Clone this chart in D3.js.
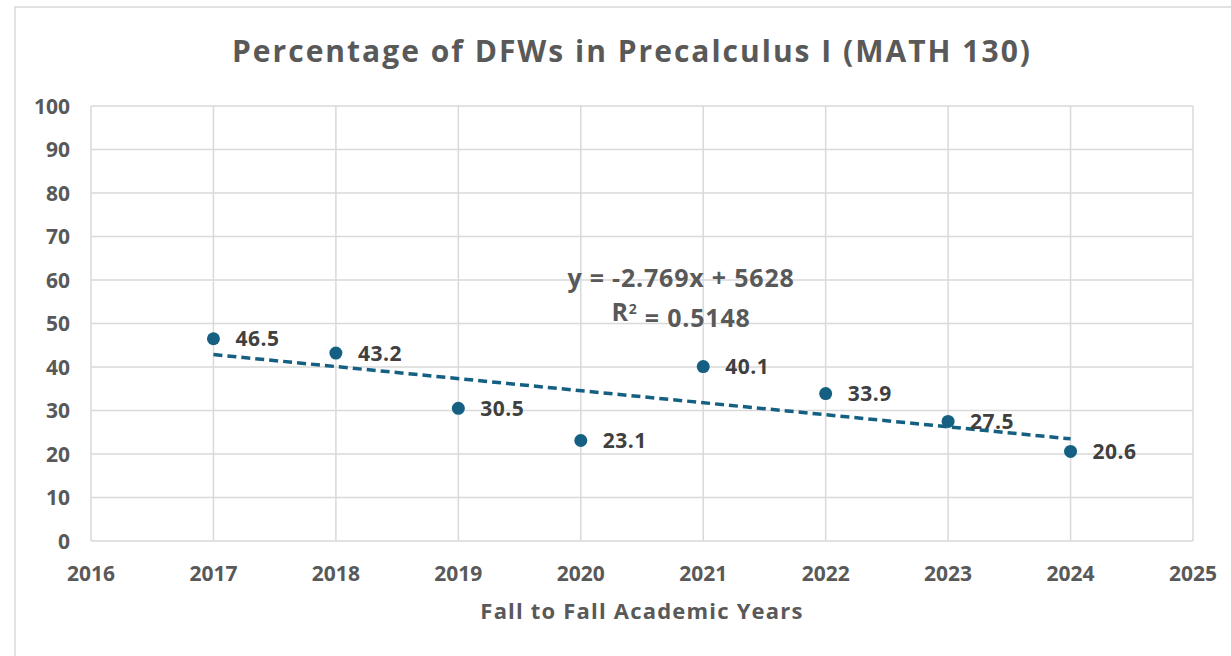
<!DOCTYPE html>
<html lang="en">
<head>
    <meta charset="UTF-8">
    <title>Percentage of DFWs in Precalculus I</title>
    <script src="https://d3js.org/d3.v7.min.js"></script>
    <style>
        body { margin: 0; background: #fff; }
        text { font-family: "Open Sans", "Liberation Sans", Arial, sans-serif; font-weight: bold; }
    </style>
</head>
<body>
<script>

var years = [2017, 2018, 2019, 2020, 2021, 2022, 2023, 2024];
var dfw = [46.5, 43.2, 30.5, 23.1, 40.1, 33.9, 27.5, 20.6];
var xTicks = [2016, 2017, 2018, 2019, 2020, 2021, 2022, 2023, 2024, 2025];
var yTicks = [0, 10, 20, 30, 40, 50, 60, 70, 80, 90, 100];

var width = 1231, height = 656;
var plotL = 91, plotR = 1193, plotT = 106, plotB = 541;
var blue = "#156082";

var svg = d3.select("body").append("svg")
    .attr("width", width)
    .attr("height", height);

// outer chart frame (runs off the right and bottom)
svg.append("rect")
    .attr("x", 15).attr("y", 7)
    .attr("width", 1300).attr("height", 700)
    .attr("fill", "none")
    .attr("stroke", "#d9d9d9")
    .attr("stroke-width", 1.5);

var x = d3.scaleLinear().domain([2016, 2025]).range([plotL, plotR]);
var y = d3.scaleLinear().domain([0, 100]).range([plotB, plotT]);

// gridlines
svg.append("g").selectAll("line").data(yTicks).join("line")
    .attr("x1", plotL).attr("x2", plotR)
    .attr("y1", d => y(d)).attr("y2", d => y(d))
    .attr("stroke", "#d9d9d9").attr("stroke-width", 1.5);
svg.append("g").selectAll("line").data(xTicks).join("line")
    .attr("x1", d => x(d)).attr("x2", d => x(d))
    .attr("y1", plotT).attr("y2", plotB)
    .attr("stroke", "#d9d9d9").attr("stroke-width", 1.5);

// tick labels
svg.append("g").selectAll("text").data(yTicks).join("text")
    .attr("x", 70).attr("y", d => y(d))
    .attr("dy", "0.36em")
    .attr("text-anchor", "end")
    .attr("fill", "#595959")
    .style("font-size", "21px")
    .text(d => d);
svg.append("g").selectAll("text").data(xTicks).join("text")
    .attr("x", d => x(d)).attr("y", 573)
    .attr("dy", "0.36em")
    .attr("text-anchor", "middle")
    .attr("fill", "#595959")
    .style("font-size", "21px")
    .text(d => d);

// title + axis title
svg.append("text")
    .attr("x", 632).attr("y", 51)
    .attr("dy", "0.36em")
    .attr("text-anchor", "middle")
    .attr("fill", "#595959")
    .style("font-size", "30px")
    .style("letter-spacing", "2px")
    .text("Percentage of DFWs in Precalculus I (MATH 130)");

svg.append("text")
    .attr("x", 642).attr("y", 611)
    .attr("dy", "0.36em")
    .attr("text-anchor", "middle")
    .attr("fill", "#595959")
    .style("font-size", "22px")
    .style("letter-spacing", "1.2px")
    .text("Fall to Fall Academic Years");

// linear trendline, least squares from the data
var xm = d3.mean(years), ym = d3.mean(dfw);
var sxy = d3.sum(years, (d, i) => (d - xm) * (dfw[i] - ym));
var sxx = d3.sum(years, d => (d - xm) * (d - xm));
var slope = sxy / sxx, icpt = ym - slope * xm;
var ends = [years[0], years[years.length - 1]];

svg.append("path")
    .datum(ends)
    .attr("d", d3.line().x(d => x(d)).y(d => y(slope * d + icpt)))
    .attr("fill", "none")
    .attr("stroke", blue)
    .attr("stroke-width", 3.5)
    .attr("stroke-dasharray", "9,5");

// points
svg.append("g").selectAll("circle").data(years).join("circle")
    .attr("cx", d => x(d))
    .attr("cy", (d, i) => y(dfw[i]))
    .attr("r", 6.5)
    .attr("fill", blue);

// data labels
svg.append("g").selectAll("text").data(years).join("text")
    .attr("x", d => x(d) + 22)
    .attr("y", (d, i) => y(dfw[i]))
    .attr("dy", "0.36em")
    .attr("fill", "#404040")
    .style("font-size", "21px")
    .style("letter-spacing", "0.5px")
    .text((d, i) => dfw[i].toFixed(1));

// trendline equation
svg.append("text")
    .attr("x", 681).attr("y", 278)
    .attr("dy", "0.36em")
    .attr("text-anchor", "middle")
    .attr("fill", "#595959")
    .style("font-size", "25px")
    .style("letter-spacing", "0.8px")
    .text("y = -2.769x + 5628");

var r2 = svg.append("text")
    .attr("x", 681).attr("y", 312)
    .attr("dy", "0.36em")
    .attr("text-anchor", "middle")
    .attr("fill", "#595959")
    .style("font-size", "25px")
    .style("letter-spacing", "0.8px");
r2.append("tspan").text("R");
r2.append("tspan").attr("dy", "-0.5em").style("font-size", "14px").text("2");
r2.append("tspan").attr("dy", "0.5em").text(" = 0.5148");

</script>
</body>
</html>
